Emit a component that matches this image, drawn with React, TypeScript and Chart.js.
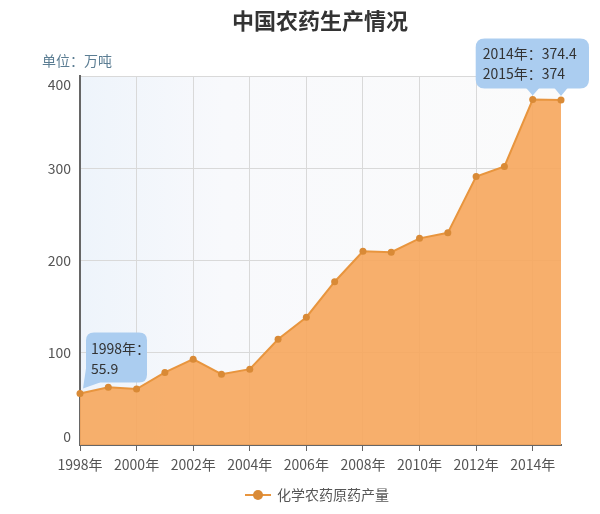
import React, { useEffect, useRef } from "react";
import { Chart, registerables } from "chart.js";

Chart.register(...registerables);

const years = [1998, 1999, 2000, 2001, 2002, 2003, 2004, 2005, 2006, 2007, 2008, 2009, 2010, 2011, 2012, 2013, 2014, 2015];
const production = [55.9, 62.5, 60.7, 78.7, 93, 76.7, 82.2, 114.7, 138.5, 177, 210, 209, 224, 230, 291, 302, 374.4, 374];
const xTickYears = [1998, 2000, 2002, 2004, 2006, 2008, 2010, 2012, 2014];
const yTicks = [0, 100, 200, 300, 400];
const titleText = "中国农药生产情况";
const unitText = "单位：万吨";
const seriesName = "化学农药原药产量";
const tipSingle = [0];
const tipPair = [16, 17];

const FONT = '"Noto Sans CJK SC", "Noto Sans", sans-serif';
const LINE = "#e8953e";
const FILL = "rgba(246,168,96,0.92)";
const POINT = "#d98a36";
const TIP = "#abcdf0";

function roundRectPath(ctx: CanvasRenderingContext2D, x: number, y: number, w: number, h: number, r: number) {
  ctx.beginPath();
  ctx.moveTo(x + r, y);
  ctx.lineTo(x + w - r, y);
  ctx.quadraticCurveTo(x + w, y, x + w, y + r);
  ctx.lineTo(x + w, y + h - r);
  ctx.quadraticCurveTo(x + w, y + h, x + w - r, y + h);
  ctx.lineTo(x + r, y + h);
  ctx.quadraticCurveTo(x, y + h, x, y + h - r);
  ctx.lineTo(x, y + r);
  ctx.quadraticCurveTo(x, y, x + r, y);
  ctx.closePath();
}

const customPlugin = {
  id: "customDraw",
  beforeDraw(chart: any) {
    const { ctx, chartArea } = chart;
    ctx.save();
    ctx.fillStyle = "#ffffff";
    ctx.fillRect(0, 0, chart.width, chart.height);
    const g = ctx.createLinearGradient(chartArea.left, 0, chartArea.right, 0);
    g.addColorStop(0, "#eef4fb");
    g.addColorStop(0.3, "#f8f9fc");
    g.addColorStop(1, "#fbfbfb");
    ctx.fillStyle = g;
    ctx.fillRect(chartArea.left, chartArea.top, chartArea.right - chartArea.left, chartArea.bottom - chartArea.top);
    ctx.restore();
  },
  afterDraw(chart: any) {
    const { ctx, chartArea } = chart;
    const ys = chart.scales.y;
    ctx.save();
    // title
    ctx.fillStyle = "#333";
    ctx.font = `bold 22px ${FONT}`;
    ctx.textAlign = "center";
    ctx.textBaseline = "middle";
    ctx.fillText(titleText, 320, 21);
    // unit
    ctx.fillStyle = "#5b7d93";
    ctx.font = `14px ${FONT}`;
    ctx.textAlign = "left";
    ctx.fillText(unitText, 42, 61);
    // y labels
    ctx.fillStyle = "#555";
    ctx.font = `14px ${FONT}`;
    ctx.textAlign = "right";
    yTicks.forEach((v) => {
      let py = ys.getPixelForValue(v);
      py = Math.max(chartArea.top + 9, Math.min(chartArea.bottom - 8, py));
      ctx.fillText(String(v), 71, py);
    });

    const meta = chart.getDatasetMeta(0);
    const pts = meta.data;
    ctx.font = `14px ${FONT}`;
    ctx.textAlign = "left";
    // tooltip 1
    tipSingle.forEach((i) => {
      const p = pts[i];
      const left = p.x + 6, right = p.x + 67, top = p.y - 61, bottom = p.y - 11;
      ctx.fillStyle = TIP;
      roundRectPath(ctx, left, top, right - left, bottom - top, 8);
      ctx.fill();
      ctx.beginPath();
      ctx.moveTo(left, bottom - 14);
      ctx.lineTo(left + 14, bottom);
      ctx.lineTo(p.x + 3, p.y - 5);
      ctx.closePath();
      ctx.fill();
      ctx.fillStyle = "#333";
      ctx.fillText(`${years[i]}年：`, left + 5, top + 16);
      ctx.fillText(String(production[i]), left + 5, top + 36);
    });

    // tooltip 2
    const pa = pts[tipPair[0]];
    const pb = pts[tipPair[1]];
    {
      const left = pa.x - 57, right = pb.x + 28, top = pa.y - 61, bottom = pa.y - 11;
      ctx.fillStyle = TIP;
      roundRectPath(ctx, left, top, right - left, bottom - top, 9);
      ctx.fill();
      [pa, pb].forEach((p: any) => {
        ctx.beginPath();
        ctx.moveTo(p.x - 7, bottom - 1);
        ctx.lineTo(p.x + 7, bottom - 1);
        ctx.lineTo(p.x, p.y - 4);
        ctx.closePath();
        ctx.fill();
      });
      ctx.fillStyle = "#333";
      tipPair.forEach((i, k) => {
        ctx.fillText(`${years[i]}年：${production[i]}`, left + 7, top + 15 + k * 20);
      });
    }

    // legend
    const ly = 495;
    ctx.strokeStyle = LINE;
    ctx.lineWidth = 2;
    ctx.beginPath();
    ctx.moveTo(245, ly);
    ctx.lineTo(271, ly);
    ctx.stroke();
    ctx.fillStyle = POINT;
    ctx.beginPath();
    ctx.arc(258, ly, 5, 0, Math.PI * 2);
    ctx.fill();
    ctx.fillStyle = "#555";
    ctx.font = `14px ${FONT}`;
    ctx.textAlign = "left";
    ctx.fillText(seriesName, 277, ly);
    ctx.restore();
  },
};

export default function App() {
  const ref = useRef<HTMLCanvasElement>(null);
  useEffect(() => {
    if (!ref.current) return;
    const chart = new Chart(ref.current, {
      type: "line",
      data: {
        datasets: [
          {
            label: seriesName,
            data: years.map((y, i) => ({ x: y, y: production[i] })),
            borderColor: LINE,
            borderWidth: 2,
            backgroundColor: FILL,
            fill: "origin",
            tension: 0,
            pointRadius: 3.5,
            pointBackgroundColor: POINT,
            pointBorderWidth: 0,
            clip: 12,
          } as any,
        ],
      },
      options: {
        animation: false,
        responsive: false,
        devicePixelRatio: 1,
        layout: { padding: { top: 76, right: 39, left: 0, bottom: 0 } },
        plugins: { legend: { display: false }, tooltip: { enabled: false }, title: { display: false } },
        scales: {
          x: {
            type: "linear",
            min: 1998,
            max: 2015,
            afterBuildTicks: (s: any) => {
              s.ticks = xTickYears.map((v) => ({ value: v }));
            },
            afterFit: (s: any) => {
              s.height = 69;
            },
            ticks: {
              callback: (v: any) => `${v}年`,
              color: "#555",
              font: { family: FONT, size: 14 },
              padding: 5,
              maxRotation: 0,
              autoSkip: false,
            },
            grid: { color: "#d9d9d9", tickColor: "#666", tickLength: 6 },
            border: { color: "#666", width: 2 },
          },
          y: {
            min: 0,
            max: 400,
            ticks: { stepSize: 100, display: false },
            afterFit: (s: any) => {
              s.width = 80;
            },
            grid: { color: "#d9d9d9", drawTicks: false },
            border: { color: "#666", width: 2 },
          },
        },
      } as any,
      plugins: [customPlugin],
    });
    return () => chart.destroy();
  }, []);
  return (
    <div style={{ position: "fixed", left: 0, top: 0, width: 600, height: 514 }}>
      <canvas ref={ref} width={600} height={514} style={{ width: 600, height: 514 }} />
    </div>
  );
}
